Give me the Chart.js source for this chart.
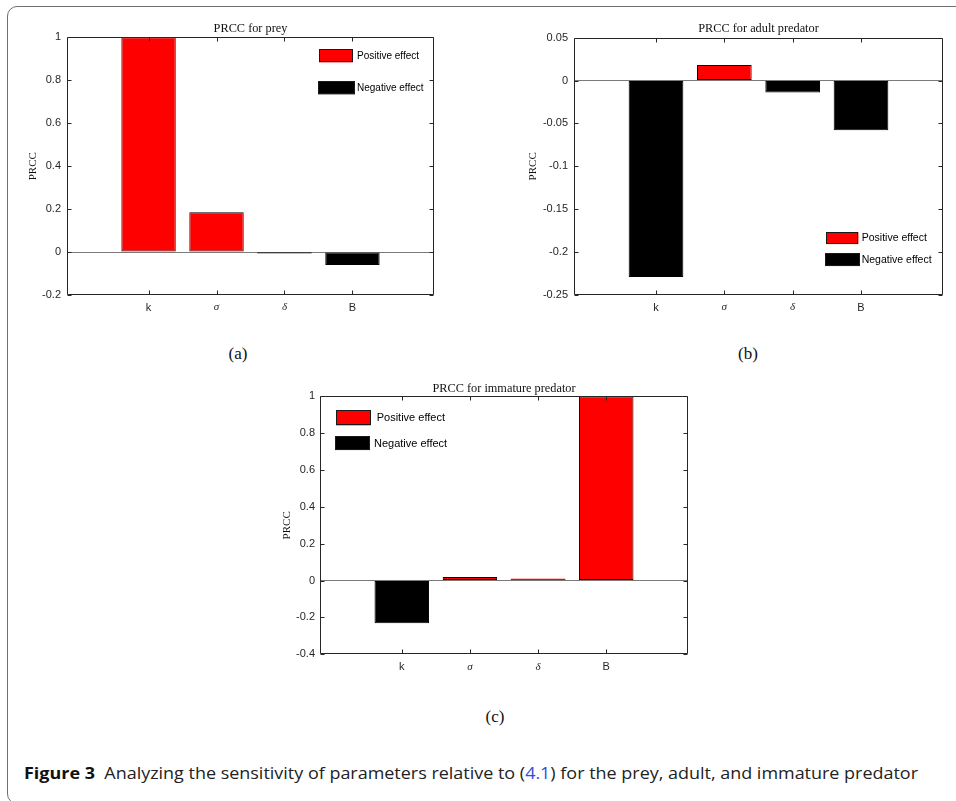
<!DOCTYPE html>
<html>
<head>
<meta charset="utf-8">
<script src="https://cdn.jsdelivr.net/npm/chart.js@4.4.1/dist/chart.umd.min.js"></script>
<style>
  html, body { margin: 0; padding: 0; background: #fff; width: 956px; height: 801px; overflow: hidden; position: relative; }
  #frame { position: absolute; left: 7px; top: 6px; width: 1000px; height: 798px; border: 1.5px solid #707070; border-radius: 10px; box-sizing: border-box; }
  .panel { position: absolute; }
  .panel canvas { display: block; }
  .sub { position: absolute; font-family: "Liberation Serif", "DejaVu Serif", serif; font-size: 17px; color: #111; transform: translate(-50%, -50%); white-space: nowrap; }
  #caption { position: absolute; left: 24px; top: 773px; font-family: "Open Sans", "Noto Sans", sans-serif; font-size: 16px; color: #222; white-space: nowrap; transform-origin: 0 50%; line-height: 1; margin-top: -8px; }
  #caption b { font-weight: 700; color: #111; }
  #caption .ref { color: #2f4fd8; }
</style>
</head>
<body>
<div id="frame"></div>

<div class="panel" style="left:0px; top:0px;"><canvas id="prey" width="480" height="330"></canvas></div>
<div class="panel" style="left:480px; top:0px;"><canvas id="adult" width="476" height="330"></canvas></div>
<div class="panel" style="left:270px; top:375px;"><canvas id="immature" width="430" height="310"></canvas></div>

<div class="sub" style="left:238px; top:354px;">(a)</div>
<div class="sub" style="left:748px; top:354px;">(b)</div>
<div class="sub" style="left:495px; top:717px;">(c)</div>

<div id="caption"><b>Figure 3</b>&nbsp;&nbsp;Analyzing the sensitivity of parameters relative to (<span class="ref">4.1</span>) for the prey, adult, and immature predator</div>

<script>
// Parameters on the horizontal axis
const categories = ['k', 'σ', 'δ', 'B'];

// PRCC values per parameter
const preyPRCC = [1.0, 0.186, -0.006, -0.06];
const adultPRCC = [-0.229, 0.018, -0.014, -0.058];
const immaturePRCC = [-0.231, 0.02, 0.01, 1.0];

// Vertical tick values
const preyTicks = [-0.2, 0, 0.2, 0.4, 0.6, 0.8, 1];
const adultTicks = [-0.25, -0.2, -0.15, -0.1, -0.05, 0, 0.05];
const immatureTicks = [-0.4, -0.2, 0, 0.2, 0.4, 0.6, 0.8, 1];

// Legend entries and their fill colours
const legendLabels = ['Positive effect', 'Negative effect'];
const effectColors = ['#ff0000', '#000000'];

const AXIS_COLOR = '#262626';
const SANS = '"Liberation Sans", Arial, sans-serif';
const SERIF = '"Liberation Serif", "Times New Roman", serif';

function fmt(v) {
  return String(Number(v.toFixed(4)));
}

// Box around the plot with inward tick marks on all four sides
const axesBox = {
  id: 'axesBox',
  afterDatasetsDraw(chart) {
    const { ctx, chartArea: a, scales: { x, y } } = chart;
    const L = Math.round(a.left) + 0.5, R = Math.round(a.right) - 0.5;
    const T = Math.round(a.top) + 0.5, B = Math.round(a.bottom) - 0.5;
    const len = 4;
    ctx.save();
    ctx.lineWidth = 1;
    ctx.strokeStyle = AXIS_COLOR;
    ctx.beginPath();
    ctx.moveTo(L, T); ctx.lineTo(R, T); ctx.lineTo(R, B); ctx.lineTo(L, B); ctx.closePath();
    y.ticks.forEach(t => {
      const py = Math.round(y.getPixelForValue(t.value)) + 0.5;
      ctx.moveTo(L, py); ctx.lineTo(L + len, py);
      ctx.moveTo(R, py); ctx.lineTo(R - len, py);
    });
    x.ticks.forEach(t => {
      const px = Math.round(x.getPixelForValue(t.value)) + 0.5;
      ctx.moveTo(px, B); ctx.lineTo(px, B - len);
      ctx.moveTo(px, T); ctx.lineTo(px, T + len);
    });
    ctx.stroke();
    ctx.restore();
  }
};

// Two-entry legend placed inside the plot area
const effectLegend = {
  id: 'effectLegend',
  afterDraw(chart, args, opts) {
    const { ctx, chartArea: a } = chart;
    ctx.save();
    ctx.font = `${opts.size}px ${SANS}`;
    ctx.textBaseline = 'middle';
    ctx.textAlign = 'left';
    opts.rows.forEach((r, i) => {
      const x = a.left + r.x, y = a.top + r.y;
      ctx.fillStyle = effectColors[i];
      ctx.fillRect(x, y, r.w, r.h);
      ctx.strokeStyle = '#1a1a1a';
      ctx.lineWidth = 1;
      ctx.strokeRect(Math.round(x) + 0.5, Math.round(y) + 0.5, Math.round(r.w) - 1, Math.round(r.h) - 1);
      ctx.fillStyle = '#000';
      ctx.fillText(legendLabels[i], a.left + r.tx, y + r.h / 2 + 0.5);
    });
    ctx.restore();
  }
};

function makeChart(id, cfg) {
  const values = cfg.values;
  return new Chart(document.getElementById(id), {
    type: 'bar',
    data: {
      datasets: [{
        data: values.map((v, i) => ({ x: i + 1, y: v })),
        backgroundColor: values.map(v => (v >= 0 ? effectColors[0] : effectColors[1])),
        borderColor: '#000',
        // hairline bars show only their fill colour
        borderWidth: c => (c.raw && Math.abs(c.raw.y) < 0.012 ? 0 : 1),
        borderSkipped: false,
        barPercentage: 0.8,
        categoryPercentage: 1
      }]
    },
    options: {
      responsive: false,
      animation: false,
      layout: { padding: cfg.padding },
      plugins: {
        legend: { display: false },
        tooltip: { enabled: false },
        title: {
          display: true,
          text: cfg.title,
          fullSize: false,
          color: '#111',
          font: { family: SERIF, size: 12.3, weight: 'normal', lineHeight: 1.2 },
          padding: cfg.titlePad
        },
        effectLegend: cfg.legend
      },
      scales: {
        x: {
          type: 'linear',
          offset: false,
          min: -0.2,
          max: 5.2,
          afterBuildTicks: s => { s.ticks = categories.map((c, i) => ({ value: i + 1 })); },
          afterFit: s => { s.height = cfg.xHeight; },
          grid: { display: false, drawTicks: false, offset: false },
          border: { display: false },
          ticks: {
            padding: cfg.xPad,
            color: AXIS_COLOR,
            autoSkip: false,
            maxRotation: 0,
            callback: v => categories[Math.round(v) - 1],
            font: c => (/[σδ]/.test(categories[c.index] || '')
              ? { family: SERIF, size: 11, style: 'italic' }
              : { family: SANS, size: 11 })
          }
        },
        y: {
          min: cfg.ticks[0],
          max: cfg.ticks[cfg.ticks.length - 1],
          afterBuildTicks: s => { s.ticks = cfg.ticks.map(v => ({ value: v })); },
          afterFit: s => { s.width = cfg.yWidth; },
          border: { display: false },
          grid: {
            drawTicks: false,
            lineWidth: 1,
            color: c => (c.tick && Math.abs(c.tick.value) < 1e-9 ? '#7a7a7a' : 'rgba(0,0,0,0)')
          },
          ticks: {
            padding: cfg.yPad,
            color: AXIS_COLOR,
            font: { family: SANS, size: 11 },
            callback: v => fmt(v)
          },
          title: {
            display: true,
            text: 'PRCC',
            color: '#111',
            font: { family: SERIF, size: 11, lineHeight: 1.2 },
            padding: { top: cfg.yTitlePad, bottom: 0 }
          }
        }
      }
    },
    plugins: [axesBox, effectLegend]
  });
}

makeChart('prey', {
  title: 'PRCC for prey',
  values: preyPRCC,
  ticks: preyTicks,
  padding: { left: 0, right: 46, top: 0, bottom: 10 },
  titlePad: { top: 21.8, bottom: 0.8 },
  yWidth: 67, yPad: 6, yTitlePad: 26.4,
  xHeight: 25, xPad: 6,
  legend: {
    size: 10,
    rows: [
      { x: 252, y: 12, w: 34, h: 13, tx: 290 },
      { x: 251, y: 44, w: 37, h: 13, tx: 290 }
    ]
  }
});

makeChart('adult', {
  title: 'PRCC for adult predator',
  values: adultPRCC,
  ticks: adultTicks,
  padding: { left: 0, right: 13, top: 0, bottom: 10 },
  titlePad: { top: 21.8, bottom: 1.1 },
  yWidth: 94, yPad: 6, yTitlePad: 46.7,
  xHeight: 25, xPad: 6,
  legend: {
    size: 10.5,
    rows: [
      { x: 252.4, y: 194.4, w: 32, h: 12, tx: 287.7 },
      { x: 251.4, y: 215.7, w: 34.5, h: 12.7, tx: 287.7 }
    ]
  }
});

makeChart('immature', {
  title: 'PRCC for immature predator',
  values: immaturePRCC,
  ticks: immatureTicks,
  padding: { left: 0, right: 12, top: 0, bottom: 10.7 },
  titlePad: { top: 6.1, bottom: 0.5 },
  yWidth: 50, yPad: 5, yTitlePad: 10.1,
  xHeight: 20, xPad: 6,
  legend: {
    size: 11,
    rows: [
      { x: 16, y: 13.7, w: 34.7, h: 15.3, tx: 56.7 },
      { x: 15, y: 40, w: 35, h: 13.7, tx: 54 }
    ]
  }
});

// Fit the figure caption to its line width
const cap = document.getElementById('caption');
const capWidth = cap.getBoundingClientRect().width;
cap.style.transform = `scaleX(${894 / capWidth})`;
</script>
</body>
</html>
